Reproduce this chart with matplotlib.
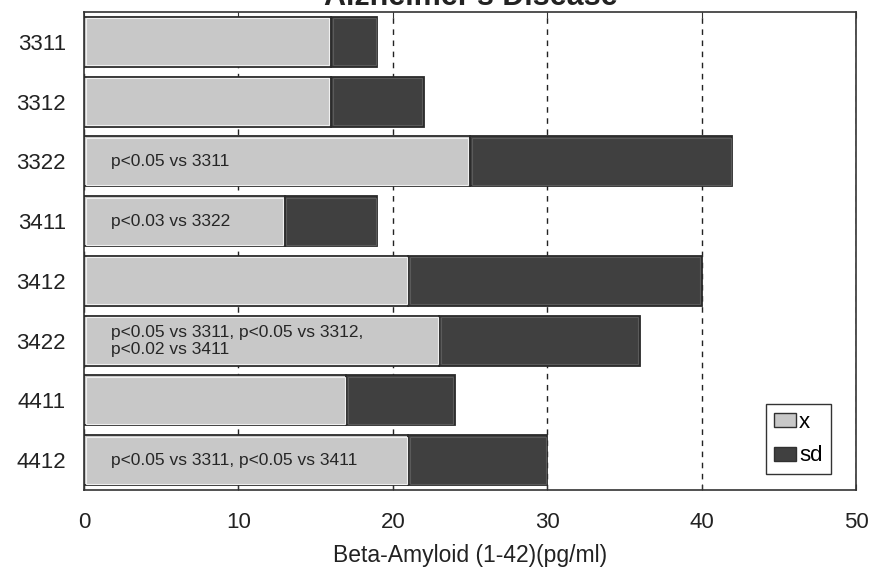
import matplotlib
matplotlib.use("Agg")
import matplotlib.pyplot as plt
from matplotlib.patches import Patch

groups = ["3311", "3312", "3322", "3411", "3412", "3422", "4411", "4412"]
mean_x = [16, 16, 25, 13, 21, 23, 17, 21]
sd = [3, 6, 17, 6, 19, 13, 7, 9]
notes = ["", "", "p<0.05 vs 3311", "p<0.03 vs 3322", "",
         "p<0.05 vs 3311, p<0.05 vs 3312,\np<0.02 vs 3411", "",
         "p<0.05 vs 3311, p<0.05 vs 3411"]
xticks = [0, 10, 20, 30, 40, 50]

plt.rcParams['font.family'] = ['Liberation Sans', 'DejaVu Sans']

fig = plt.figure(figsize=(8.8, 5.67), dpi=100)
ax = fig.add_axes([84/880, 1-490/567, (856-84)/880, (490-12)/567])

light = '#c8c8c8'
dark = '#404040'
edge = '#2a2a2a'
ypos = list(range(len(groups)))
bh = 0.84
ax.barh(ypos, mean_x, height=bh, color=light, edgecolor=edge, linewidth=1.3, zorder=3)
ax.barh(ypos, sd, left=mean_x, height=bh, color=dark, edgecolor=edge, linewidth=1.3, zorder=3)
# inner light highlight (3D look)
ax.barh(ypos, [m - 0.2 for m in mean_x], left=0.1, height=bh - 0.05, color='none',
        edgecolor='#f0f0f0', linewidth=0.8, zorder=3.5)
ax.barh(ypos, [s - 0.2 for s in sd], left=[m + 0.1 for m in mean_x], height=bh - 0.05,
        color='none', edgecolor='#5a5a5a', linewidth=0.8, zorder=3.5)

for y, n in zip(ypos, notes):
    if n:
        ax.text(1.75, y, n, ha='left', va='center', fontsize=12.5, color='#262626',
                zorder=4, linespacing=1.15)

ax.set_xlim(0, 50)
ax.set_ylim(len(groups)-0.5, -0.5)
ax.set_xticks(xticks)
ax.set_xticklabels([str(t) for t in xticks], fontsize=16, color='#222222')
ax.set_yticks(ypos)
ax.set_yticklabels(groups, fontsize=16, color='#222222')
ax.tick_params(axis='y', length=0, pad=13)
ax.tick_params(axis='x', direction='in', length=4, pad=16, top=True, color='#333333')
for s in ax.spines.values():
    s.set_color('#333333')
    s.set_linewidth(1.2)

ax.xaxis.grid(True, linestyle=(0, (4, 4)), color='#222222', linewidth=1.0, zorder=0)
ax.set_axisbelow(True)

ax.set_xlabel("Beta-Amyloid (1-42)(pg/ml)", fontsize=16.5, labelpad=8, color='#222222')

handles = [Patch(facecolor=light, edgecolor='#303030', label='x'),
           Patch(facecolor=dark, edgecolor='#303030', label='sd')]
leg = ax.legend(handles=handles, loc='lower right', bbox_to_anchor=(0.967, 0.033),
                fontsize=16, fancybox=False, edgecolor='#333333', framealpha=1,
                handlelength=1.0, handleheight=0.6, handletextpad=0.15,
                borderpad=0.35, labelspacing=0.55, borderaxespad=0)
leg.get_frame().set_linewidth(1.0)

fig.text(0.535, 1 - 5/567, "Alzheimer's Disease", ha='center', va='baseline', fontsize=22,
         fontweight='bold', color='#222222')

fig.savefig("out.png", dpi=100)
